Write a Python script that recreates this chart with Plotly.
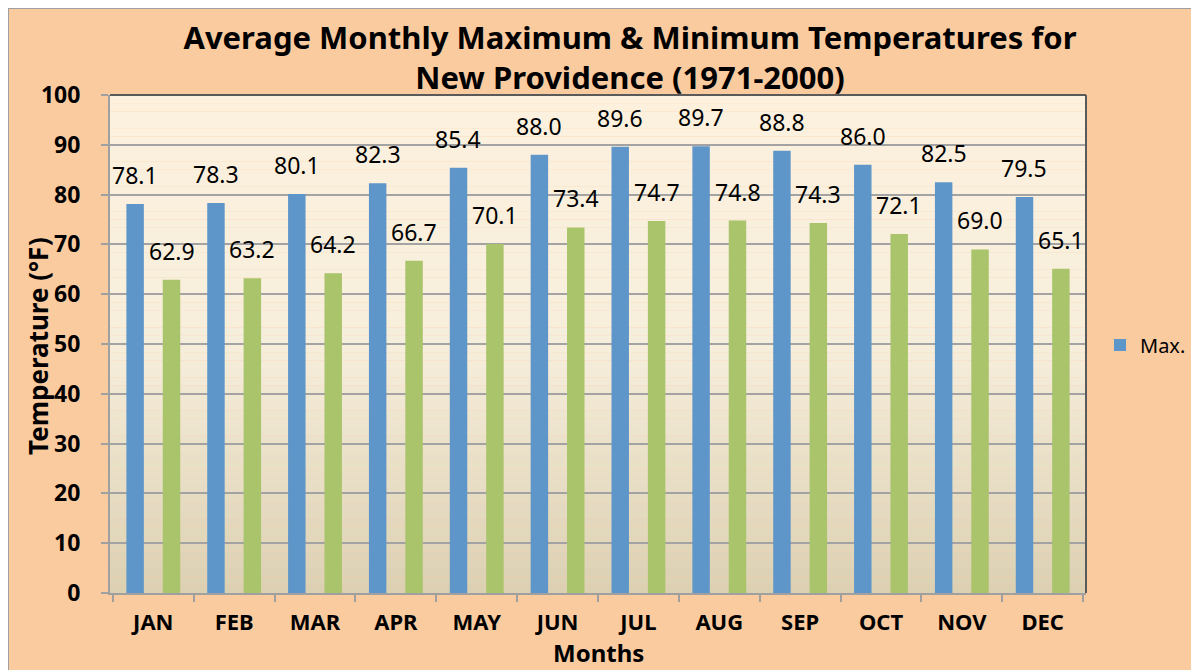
import plotly.graph_objects as go

months = ["JAN", "FEB", "MAR", "APR", "MAY", "JUN", "JUL", "AUG", "SEP", "OCT", "NOV", "DEC"]
max_temps = [78.1, 78.3, 80.1, 82.3, 85.4, 88.0, 89.6, 89.7, 88.8, 86.0, 82.5, 79.5]
min_temps = [62.9, 63.2, 64.2, 66.7, 70.1, 73.4, 74.7, 74.8, 74.3, 72.1, 69.0, 65.1]

# The page body has an 8px margin: the figure starts at window (8, 8)
OFF = 8
W, H = 1199 - OFF, 670 - OFF
PL, PR, PT, PB = 110, 1086, 95, 593          # plot area in window pixels
L, R, T, B = PL - OFF, 1199 - PR, PT - OFF, 670 - PB
PW, PH = PR - PL, PB - PT

def px_x(px):
    return (px - PL) / PW

def px_y(py):
    return (PB - py) / PH

FONT = "Noto Sans"
BLUE = "#5F96C9"
GREEN = "#A9C46A"

fig = go.Figure()
fig.add_trace(go.Bar(x=months, y=max_temps, name="Max.", marker=dict(color=BLUE, line=dict(width=0))))
fig.add_trace(go.Bar(x=months, y=min_temps, name="Min.", showlegend=False,
                     marker=dict(color=GREEN, line=dict(width=0))))

annotations = []
slot = PW / 12 * 0.9 / 2
for m, v in zip(months, max_temps):
    annotations.append(dict(x=m, y=v, xref="x", yref="y", text=f"{v:.1f}", showarrow=False,
                            xshift=-slot / 2, yshift=11, yanchor="bottom",
                            font=dict(family=FONT, size=23, color="#000")))
for m, v in zip(months, min_temps):
    annotations.append(dict(x=m, y=v, xref="x", yref="y", text=f"{v:.1f}", showarrow=False,
                            xshift=slot / 2, yshift=11, yanchor="bottom",
                            font=dict(family=FONT, size=23, color="#000")))

annotations.append(dict(x=px_x(38), y=px_y(346), xref="paper", yref="paper",
                        xanchor="center", yanchor="middle",
                        text="<b>Temperature (°F)</b>", textangle=-90, showarrow=False,
                        font=dict(family=FONT, size=26, color="#000")))
annotations.append(dict(x=px_x(598), y=px_y(652), xref="paper", yref="paper",
                        xanchor="center", yanchor="middle",
                        text="<b>Months</b>", showarrow=False,
                        font=dict(family=FONT, size=24, color="#000")))

# gradient background of plot area
shapes = []
top = (253, 241, 222)
mid = (246, 238, 220)
bot = (220, 208, 178)
N = 60
for i in range(N):
    f = (i + 0.5) / N  # 0 at bottom, 1 at top
    if f >= 0.5:
        g = (f - 0.5) / 0.5
        c = [round(mid[k] + (top[k] - mid[k]) * g) for k in range(3)]
    else:
        g = f / 0.5
        c = [round(bot[k] + (mid[k] - bot[k]) * g) for k in range(3)]
    shapes.append(dict(type="rect", xref="x domain", yref="y domain", x0=0, x1=1,
                       y0=i / N, y1=(i + 1) / N, layer="below", line=dict(width=0),
                       fillcolor=f"rgb({c[0]},{c[1]},{c[2]})"))
# top and right plot border
shapes.append(dict(type="line", xref="paper", yref="paper", x0=0, x1=1, y0=1, y1=1,
                   line=dict(color="#5a5a5a", width=2)))
shapes.append(dict(type="line", xref="paper", yref="paper", x0=1, x1=1, y0=0, y1=1,
                   line=dict(color="#5a5a5a", width=2)))
# outer chart frame (left and top edges)
shapes.append(dict(type="line", xref="paper", yref="paper", x0=px_x(OFF), x1=px_x(OFF),
                   y0=px_y(670), y1=px_y(OFF), line=dict(color="#A0A0A0", width=2)))
shapes.append(dict(type="line", xref="paper", yref="paper", x0=px_x(OFF), x1=px_x(1199),
                   y0=px_y(OFF), y1=px_y(OFF), line=dict(color="#A0A0A0", width=2)))

fig.update_layout(
    width=W, height=H,
    margin=dict(l=L, r=R, t=T, b=B, autoexpand=False),
    paper_bgcolor="#FBCBA0",
    plot_bgcolor="rgba(0,0,0,0)",
    barmode="group", bargap=0.1, bargroupgap=0.52,
    title=dict(text="<b>Average Monthly Maximum & Minimum Temperatures for<br>New Providence (1971-2000)</b>",
               x=(630 - OFF) / W, xanchor="center", y=1 - (49 - OFF) / H, yanchor="middle",
               font=dict(family=FONT, size=31, color="#000")),
    showlegend=True,
    legend=dict(x=px_x(1100), y=px_y(345), xanchor="left", yanchor="middle",
                bgcolor="rgba(0,0,0,0)", font=dict(family=FONT, size=20, color="#000"),
                itemwidth=30),
    annotations=annotations,
    shapes=shapes,
    xaxis=dict(tickson="boundaries", ticks="outside", ticklen=7, tickcolor="#A0A0A0",
               tickwidth=2, showline=True, linecolor="#A0A0A0", linewidth=2,
               tickfont=dict(family=FONT, size=22, color="#000"),
               tickprefix="<b>", ticksuffix="</b>", showgrid=False, ticklabelstandoff=9),
    yaxis=dict(range=[0, 100], dtick=10, ticks="outside", ticklen=7, tickcolor="#A0A0A0",
               tickwidth=2, showline=True, linecolor="#A0A0A0", linewidth=2,
               gridcolor="#A3A3A3", gridwidth=1.5, zeroline=False,
               tickfont=dict(family=FONT, size=23, color="#000"),
               tickprefix="<b>", ticksuffix="</b>", ticklabelstandoff=16),
)

fig.write_html("out.html")
